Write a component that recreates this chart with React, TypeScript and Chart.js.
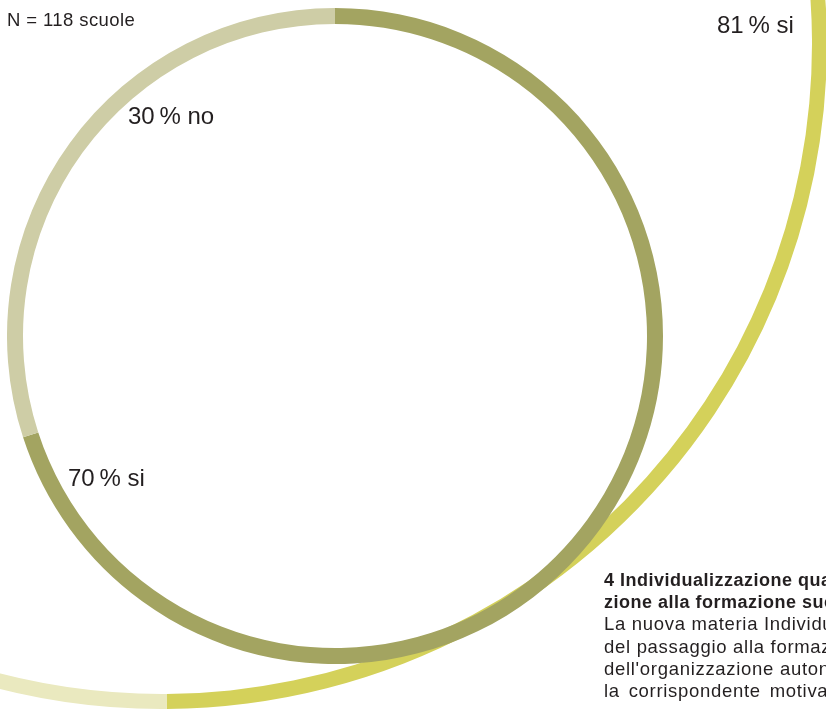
import React, { useEffect, useRef } from "react";
import { Chart, registerables } from "chart.js";

Chart.register(...registerables);

// ---- data ----
const innerLabels = ["si", "no"];
const innerValues = [70, 30];
const outerLabels = ["si", "no"];
const outerValues = [81, 19];
const sampleNote = "N = 118 scuole";
const innerLabelTexts = ["70\u2009% si", "30\u2009% no"];
const outerLabelTexts = ["81\u2009% si"];
const captionTitle = [
  "4 Individualizzazione quale motivo",
  "zione alla formazione successiva",
];
const captionBody = [
  "La nuova materia Individualizzazione",
  "del passaggio alla formazione",
  "dell'organizzazione autonoma",
  "la corrispondente motivazione",
];

// ---- styles ----
const innerColors = ["#a3a461", "#cecda6"];
const outerColors = ["#d4d15a", "#eae9bf"];
const textColor = "#231f20";
const fontFamily = "'Liberation Sans', Arial, Helvetica, sans-serif";

type RingProps = {
  size: number;
  thickness: number;
  left: number;
  top: number;
  labels: string[];
  values: number[];
  colors: string[];
  rotation: number;
};

function Ring({ size, thickness, left, top, labels, values, colors, rotation }: RingProps) {
  const ref = useRef<HTMLCanvasElement | null>(null);
  useEffect(() => {
    if (!ref.current) return;
    const chart = new Chart(ref.current, {
      type: "doughnut",
      data: {
        labels,
        datasets: [
          {
            data: values,
            backgroundColor: colors,
            borderWidth: 0,
            hoverOffset: 0,
            offset: 0,
            spacing: 0,
          } as any,
        ],
      },
      options: {
        responsive: false,
        maintainAspectRatio: false,
        animation: false,
        events: [],
        rotation,
        circumference: 360,
        radius: "100%",
        cutout: size / 2 - thickness,
        layout: { padding: 0 },
        plugins: {
          legend: { display: false },
          tooltip: { enabled: false },
          title: { display: false },
        },
      } as any,
    });
    return () => chart.destroy();
  }, []);
  return (
    <canvas
      ref={ref}
      width={size}
      height={size}
      style={{ position: "absolute", left, top, width: size, height: size, display: "block" }}
    />
  );
}

const label = (left: number, top: number, size: number, extra: React.CSSProperties = {}): React.CSSProperties => ({
  position: "absolute",
  left,
  top,
  fontSize: size,
  lineHeight: 1,
  fontFamily,
  color: textColor,
  whiteSpace: "nowrap",
  ...extra,
});

export default function App() {
  return (
    <div
      style={{
        position: "fixed",
        left: 0,
        top: 0,
        width: 826,
        height: 709,
        overflow: "hidden",
        background: "#ffffff",
      }}
    >
      <Ring
        size={1330}
        thickness={15}
        left={-503}
        top={-621}
        labels={outerLabels}
        values={outerValues}
        colors={outerColors}
        rotation={248}
      />
      <Ring
        size={656}
        thickness={16}
        left={7}
        top={8}
        labels={innerLabels}
        values={innerValues}
        colors={innerColors}
        rotation={0}
      />
      <div style={label(7, 10.5, 18.5, { letterSpacing: 0.4 })}>{sampleNote}</div>
      <div style={label(128, 104, 24)}>{innerLabelTexts[1]}</div>
      <div style={label(68, 466, 24)}>{innerLabelTexts[0]}</div>
      <div style={label(717, 13, 24)}>{outerLabelTexts[0]}</div>
      <div
        style={{
          position: "absolute",
          left: 604,
          top: 569,
          fontFamily,
          fontSize: 18.5,
          lineHeight: "22.2px",
          color: textColor,
          whiteSpace: "nowrap",
        }}
      >
        {captionTitle.map((t, i) => (
          <div key={"t" + i} style={{ fontWeight: "bold", fontSize: 18, letterSpacing: 0.5 }}>
            {t}
          </div>
        ))}
        {captionBody.map((t, i) => (
          <div
            key={"b" + i}
            style={{ letterSpacing: 0.7, wordSpacing: i === captionBody.length - 1 ? 3 : 0 }}
          >
            {t}
          </div>
        ))}
      </div>
    </div>
  );
}
